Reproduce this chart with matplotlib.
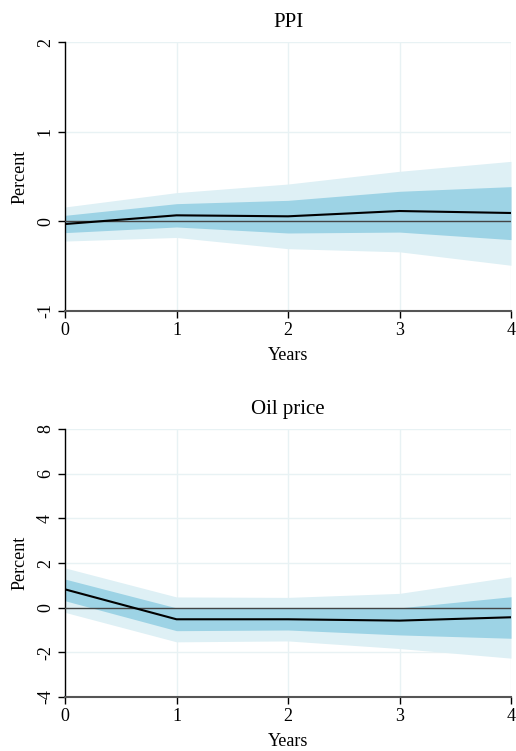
import numpy as np
import matplotlib
matplotlib.use("Agg")
import matplotlib.pyplot as plt

plt.rcParams['font.family'] = ['Liberation Serif', 'DejaVu Serif']

years = [0, 1, 2, 3, 4]

# PPI impulse response
ppi_mid = [-0.03, 0.067, 0.056, 0.115, 0.093]
ppi_in_lo = [-0.126, -0.063, -0.13, -0.12, -0.204]
ppi_in_hi = [0.067, 0.197, 0.234, 0.335, 0.387]
ppi_out_lo = [-0.22, -0.18, -0.305, -0.34, -0.49]
ppi_out_hi = [0.16, 0.32, 0.416, 0.558, 0.669]

# Oil price impulse response
oil_mid = [0.82, -0.52, -0.52, -0.58, -0.43]
oil_in_lo = [0.31, -1.03, -1.0, -1.22, -1.37]
oil_in_hi = [1.28, -0.01, -0.01, -0.01, 0.49]
oil_out_lo = [-0.21, -1.53, -1.49, -1.83, -2.26]
oil_out_hi = [1.78, 0.48, 0.46, 0.64, 1.38]

light = "#def0f5"
dark = "#9dd3e5"
gridc = "#e8f2f4"

fig = plt.figure(figsize=(5.16, 7.51), dpi=100)
ax1 = fig.add_axes([65 / 516, 1 - 311 / 751, 446 / 516, 269 / 751])
ax2 = fig.add_axes([65 / 516, 1 - 697 / 751, 446 / 516, 268 / 751])


def panel(ax, title, mid, ilo, ihi, olo, ohi, ylim, yticks):
    ax.fill_between(years, olo, ohi, color=light, lw=0, zorder=1)
    ax.fill_between(years, ilo, ihi, color=dark, lw=0, zorder=2)
    ax.axhline(0, color="#444444", lw=1.0, zorder=3)
    ax.plot(years, mid, color="black", lw=1.5, zorder=4)
    ax.set_xlim(0, 4)
    ax.set_ylim(*ylim)
    ax.set_xticks(years)
    ax.set_yticks(yticks)
    ax.set_yticklabels([str(t) for t in yticks], rotation=90, va="center")
    ax.grid(True, color=gridc, lw=1.0, zorder=0)
    ax.set_axisbelow(True)
    for s in ["top", "right"]:
        ax.spines[s].set_visible(False)
    ax.spines["left"].set_color("black")
    ax.spines["left"].set_linewidth(1.0)
    ax.spines["bottom"].set_color("#555555")
    ax.spines["bottom"].set_linewidth(1.5)
    ax.tick_params(labelsize=13, length=5, width=1, direction="out", pad=3)
    ax.set_xlabel("Years", fontsize=13, labelpad=6)
    ax.set_ylabel("Percent", fontsize=13, labelpad=6)
    ax.set_title(title, fontsize=15, pad=11)


panel(ax1, "PPI", ppi_mid, ppi_in_lo, ppi_in_hi, ppi_out_lo, ppi_out_hi,
      (-1, 2), [-1, 0, 1, 2])
panel(ax2, "Oil price", oil_mid, oil_in_lo, oil_in_hi, oil_out_lo, oil_out_hi,
      (-4, 8), [-4, -2, 0, 2, 4, 6, 8])

fig.savefig("out.png", dpi=100)
